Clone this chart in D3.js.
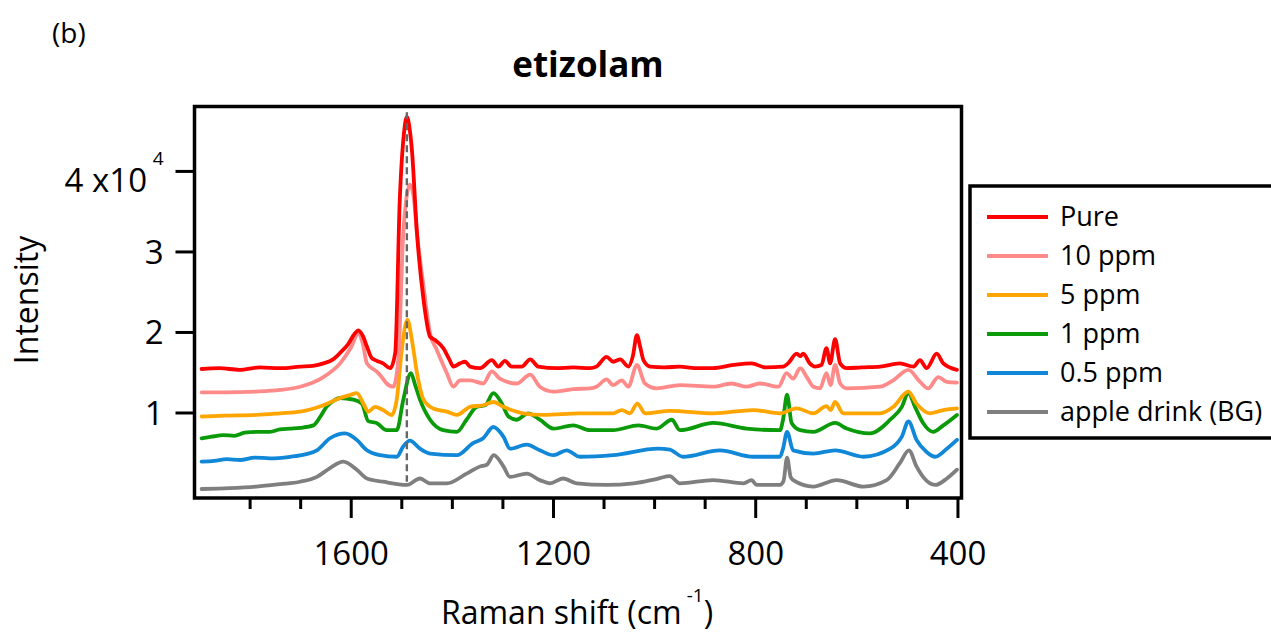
<!DOCTYPE html>
<html><head><meta charset="utf-8">
<script src="https://cdn.jsdelivr.net/npm/d3@7"></script>
<style>
html,body{margin:0;padding:0;background:#fff;}
svg text{font-family:"Open Sans",sans-serif;fill:#000;}
</style></head>
<body>
<svg id="c" width="1271" height="635"></svg>
<script>
// ---- data (intensity in units of 10^4) ----
const seriesNames = ["Pure","10 ppm","5 ppm","1 ppm","0.5 ppm","apple drink (BG)"];
const seriesColors = ["#ff0000","#ff8a8a","#ffa500","#0a9a0a","#1187d8","#7f7f7f"];
const majorTicks = [1600,1200,800,400];
const minorTicks = [1800,1700,1500,1400,1300,1100,1000,900,700,600,500];
const yTicks = [1,2,3,4];
const yTickLabels = ["1","2","3","4 x10"];
const markerShift = 1489;

const pure = [[1895,1.54],[1860,1.55],[1820,1.53],[1780,1.56],[1740,1.55],[1700,1.57],[1675,1.58],[1654,1.61],[1635,1.66],[1621,1.74],[1605,1.85],[1592,1.98],[1585,2.02],[1576,1.95],[1568,1.82],[1559,1.68],[1548,1.64],[1536,1.61],[1522,1.55],[1512,1.74],[1503,3.64],[1495,4.45],[1489,4.67],[1483,4.50],[1479,4.26],[1469,3.23],[1456,2.40],[1443,1.94],[1433,1.90],[1417,1.80],[1405,1.66],[1397,1.57],[1384,1.61],[1374,1.63],[1364,1.57],[1344,1.55],[1321,1.65],[1308,1.57],[1295,1.64],[1282,1.57],[1262,1.57],[1245,1.66],[1229,1.57],[1193,1.55],[1160,1.56],[1127,1.55],[1114,1.57],[1094,1.69],[1081,1.63],[1067,1.66],[1051,1.57],[1042,1.70],[1034,1.96],[1027,1.80],[1021,1.65],[1008,1.57],[980,1.56],[949,1.57],[920,1.55],[883,1.55],[843,1.59],[807,1.61],[780,1.56],[745,1.57],[735,1.61],[718,1.73],[711,1.70],[705,1.73],[692,1.61],[682,1.57],[669,1.59],[659,1.80],[652,1.61],[642,1.91],[632,1.61],[619,1.55],[590,1.56],[553,1.57],[514,1.61],[487,1.57],[474,1.65],[461,1.55],[441,1.73],[428,1.61],[401,1.53]];
const ppm10 = [[1895,1.25],[1850,1.25],[1786,1.26],[1740,1.28],[1700,1.32],[1654,1.44],[1621,1.61],[1600,1.80],[1585,1.98],[1576,1.85],[1568,1.61],[1549,1.51],[1540,1.45],[1529,1.36],[1516,1.32],[1506,1.65],[1496,3.23],[1483,3.83],[1476,3.70],[1469,3.23],[1456,2.56],[1443,1.98],[1430,1.78],[1410,1.49],[1397,1.32],[1384,1.40],[1364,1.40],[1338,1.36],[1321,1.51],[1305,1.42],[1272,1.36],[1245,1.47],[1226,1.32],[1199,1.26],[1160,1.29],[1127,1.30],[1114,1.32],[1094,1.41],[1081,1.34],[1064,1.40],[1051,1.32],[1034,1.59],[1018,1.36],[995,1.30],[949,1.34],[883,1.32],[847,1.36],[817,1.32],[791,1.36],[754,1.32],[738,1.49],[725,1.42],[711,1.55],[698,1.44],[685,1.32],[672,1.30],[659,1.49],[651,1.34],[642,1.59],[632,1.36],[619,1.30],[553,1.32],[527,1.40],[497,1.53],[474,1.38],[458,1.30],[438,1.44],[421,1.38],[401,1.37]];
const ppm5 = [[1895,0.95],[1850,0.96],[1786,0.97],[1740,0.99],[1700,1.01],[1654,1.09],[1621,1.18],[1600,1.22],[1588,1.24],[1575,1.11],[1565,1.01],[1552,1.07],[1536,1.03],[1519,0.97],[1509,1.16],[1499,1.78],[1488,2.15],[1479,1.90],[1469,1.49],[1456,1.16],[1437,1.05],[1410,1.01],[1390,0.97],[1364,1.07],[1338,1.09],[1318,1.13],[1298,1.07],[1259,0.99],[1219,0.97],[1147,0.99],[1081,0.99],[1064,1.03],[1048,0.99],[1033,1.11],[1018,0.99],[969,1.02],[883,0.99],[804,1.03],[751,0.99],[718,1.05],[685,0.99],[659,1.08],[651,1.03],[642,1.13],[626,0.99],[553,0.99],[527,1.07],[497,1.26],[481,1.11],[454,0.99],[428,1.03],[401,1.05]];
const ppm1 = [[1895,0.68],[1875,0.70],[1852,0.72],[1830,0.71],[1810,0.75],[1786,0.76],[1760,0.76],[1740,0.79],[1720,0.80],[1700,0.81],[1674,0.84],[1660,0.95],[1648,1.07],[1635,1.14],[1621,1.18],[1595,1.16],[1578,1.11],[1565,0.89],[1549,0.87],[1529,0.78],[1509,0.78],[1496,1.16],[1481,1.49],[1473,1.35],[1463,1.16],[1443,0.91],[1417,0.78],[1390,0.76],[1371,0.91],[1351,1.07],[1334,1.09],[1318,1.24],[1301,1.11],[1288,0.95],[1272,0.91],[1249,0.99],[1226,0.91],[1199,0.80],[1160,0.84],[1127,0.78],[1081,0.78],[1031,0.84],[995,0.80],[965,0.91],[949,0.78],[883,0.87],[817,0.80],[751,0.78],[745,0.91],[737,1.22],[728,0.87],[711,0.78],[685,0.76],[642,0.87],[619,0.80],[573,0.74],[533,0.91],[510,1.07],[497,1.24],[484,1.07],[468,0.87],[448,0.76],[428,0.84],[401,0.97]];
const ppm05 = [[1895,0.39],[1870,0.40],[1845,0.42],[1819,0.41],[1790,0.44],[1760,0.43],[1720,0.45],[1690,0.48],[1667,0.53],[1641,0.68],[1611,0.74],[1588,0.66],[1568,0.53],[1542,0.47],[1509,0.45],[1496,0.58],[1483,0.65],[1463,0.55],[1443,0.49],[1390,0.47],[1358,0.62],[1338,0.68],[1318,0.82],[1298,0.70],[1285,0.55],[1252,0.60],[1226,0.53],[1199,0.47],[1173,0.53],[1147,0.45],[1081,0.47],[992,0.55],[969,0.54],[943,0.45],[870,0.53],[804,0.45],[751,0.45],[745,0.55],[737,0.76],[725,0.53],[685,0.49],[642,0.53],[586,0.45],[533,0.55],[510,0.70],[497,0.89],[481,0.66],[461,0.51],[444,0.45],[421,0.55],[401,0.66]];
const background = [[1895,0.05],[1840,0.06],[1786,0.08],[1740,0.11],[1700,0.14],[1667,0.20],[1641,0.31],[1615,0.39],[1588,0.29],[1568,0.18],[1536,0.14],[1489,0.10],[1463,0.18],[1443,0.12],[1410,0.12],[1371,0.24],[1344,0.33],[1331,0.35],[1317,0.47],[1298,0.33],[1285,0.20],[1252,0.24],[1226,0.16],[1206,0.12],[1180,0.18],[1153,0.12],[1094,0.10],[1041,0.12],[992,0.18],[969,0.21],[949,0.12],[883,0.16],[823,0.12],[807,0.16],[797,0.10],[751,0.10],[744,0.15],[737,0.44],[730,0.20],[725,0.16],[685,0.08],[639,0.16],[586,0.08],[540,0.16],[514,0.37],[496,0.53],[481,0.33],[468,0.20],[444,0.10],[421,0.18],[401,0.29]];
const markerRange = [0.14, 4.73];

const seriesData = [pure, ppm10, ppm5, ppm1, ppm05, background];

// ---- layout ----
const svg = d3.select("#c");
const L = 194.5, R = 961.5, T = 106.5, B = 498;
const x = d3.scaleLinear().domain([1909, 392]).range([L, R]);
const y = d3.scaleLinear().domain([-0.062, 4.80]).range([B, T]);

// spectra (draw BG first, pure last)
const line = d3.line().x(d => x(d[0])).y(d => y(d[1])).curve(d3.curveMonotoneX);
const gLines = svg.append("g");
for (let i = seriesData.length - 1; i >= 0; i--) {
  gLines.append("path").datum(seriesData[i])
    .attr("d", line).attr("fill", "none")
    .attr("stroke", seriesColors[i]).attr("stroke-width", 3.8)
    .attr("stroke-linejoin", "round").attr("stroke-linecap", "round");
}
// dashed marker
svg.append("line")
  .attr("x1", x(markerShift)).attr("x2", x(markerShift))
  .attr("y1", y(markerRange[1])).attr("y2", y(markerRange[0]))
  .attr("stroke", "#666").attr("stroke-width", 2.4).attr("stroke-dasharray", "7,4");

// frame
svg.append("rect").attr("x", L).attr("y", T).attr("width", R - L).attr("height", B - T)
  .attr("fill", "none").attr("stroke", "#000").attr("stroke-width", 3.5);

// x axis
const xMajor = svg.append("g").attr("transform", `translate(0,${B})`)
  .call(d3.axisBottom(x).tickValues(majorTicks).tickSize(20).tickPadding(24).tickFormat(d3.format("d")));
const xMinor = svg.append("g").attr("transform", `translate(0,${B})`)
  .call(d3.axisBottom(x).tickValues(minorTicks).tickSize(11).tickFormat(""));
[xMajor, xMinor].forEach(g => {
  g.select(".domain").remove();
  g.selectAll("line").attr("stroke", "#000").attr("stroke-width", 3);
});
xMajor.selectAll("text").attr("font-size", 33).attr("font-family", "Open Sans").attr("fill", "#000");

// y axis
const yAx = svg.append("g").attr("transform", `translate(${L},0)`)
  .call(d3.axisLeft(y).tickValues(yTicks).tickSize(19).tickPadding(12).tickFormat((d, i) => yTickLabels[i]));
yAx.select(".domain").remove();
yAx.selectAll("line").attr("stroke", "#000").attr("stroke-width", 3);
yAx.selectAll("text").attr("font-size", 33).attr("font-family", "Open Sans").attr("fill", "#000")
  .attr("dy", "0.36em");
// the 10^4 exponent on the top label
yAx.selectAll(".tick").filter(d => d === 4).select("text")
  .attr("dy", null).attr("y", 21).attr("x", -47.5)
  .each(function () {
    const g = d3.select(this.parentNode);
    g.append("text").attr("x", -31).attr("y", -6).attr("text-anchor", "end")
      .attr("font-size", 19).attr("font-family", "Open Sans").attr("fill", "#000").text("4");
  });

// axis titles
svg.append("text").attr("transform", "translate(38,300) rotate(-90)")
  .attr("text-anchor", "middle").attr("font-size", 32).text("Intensity");
const xt = svg.append("text").attr("x", 577).attr("y", 624).attr("text-anchor", "middle").attr("font-size", 32);
xt.append("tspan").text("Raman shift (cm");
xt.append("tspan").attr("font-size", 19).attr("dx", 5).attr("dy", -22).text("-1");
xt.append("tspan").attr("dy", 22).text(")");

// title and panel label
svg.append("text").attr("x", 588).attr("y", 77).attr("text-anchor", "middle")
  .attr("font-size", 35).attr("font-weight", "bold").text("etizolam");
svg.append("text").attr("x", 52).attr("y", 43).attr("font-size", 28).text("(b)");

// legend
svg.append("rect").attr("x", 970).attr("y", 186).attr("width", 340).attr("height", 252)
  .attr("fill", "#fff").attr("stroke", "#000").attr("stroke-width", 3.5);
const lg = svg.append("g");
seriesNames.forEach((n, i) => {
  const yy = 217 + i * 39;
  lg.append("line").attr("x1", 987).attr("x2", 1048).attr("y1", yy).attr("y2", yy)
    .attr("stroke", seriesColors[i]).attr("stroke-width", 3.8);
  lg.append("text").attr("x", 1060).attr("y", yy).attr("dy", "0.35em")
    .attr("font-size", 27).text(n);
});
</script>
</body></html>
